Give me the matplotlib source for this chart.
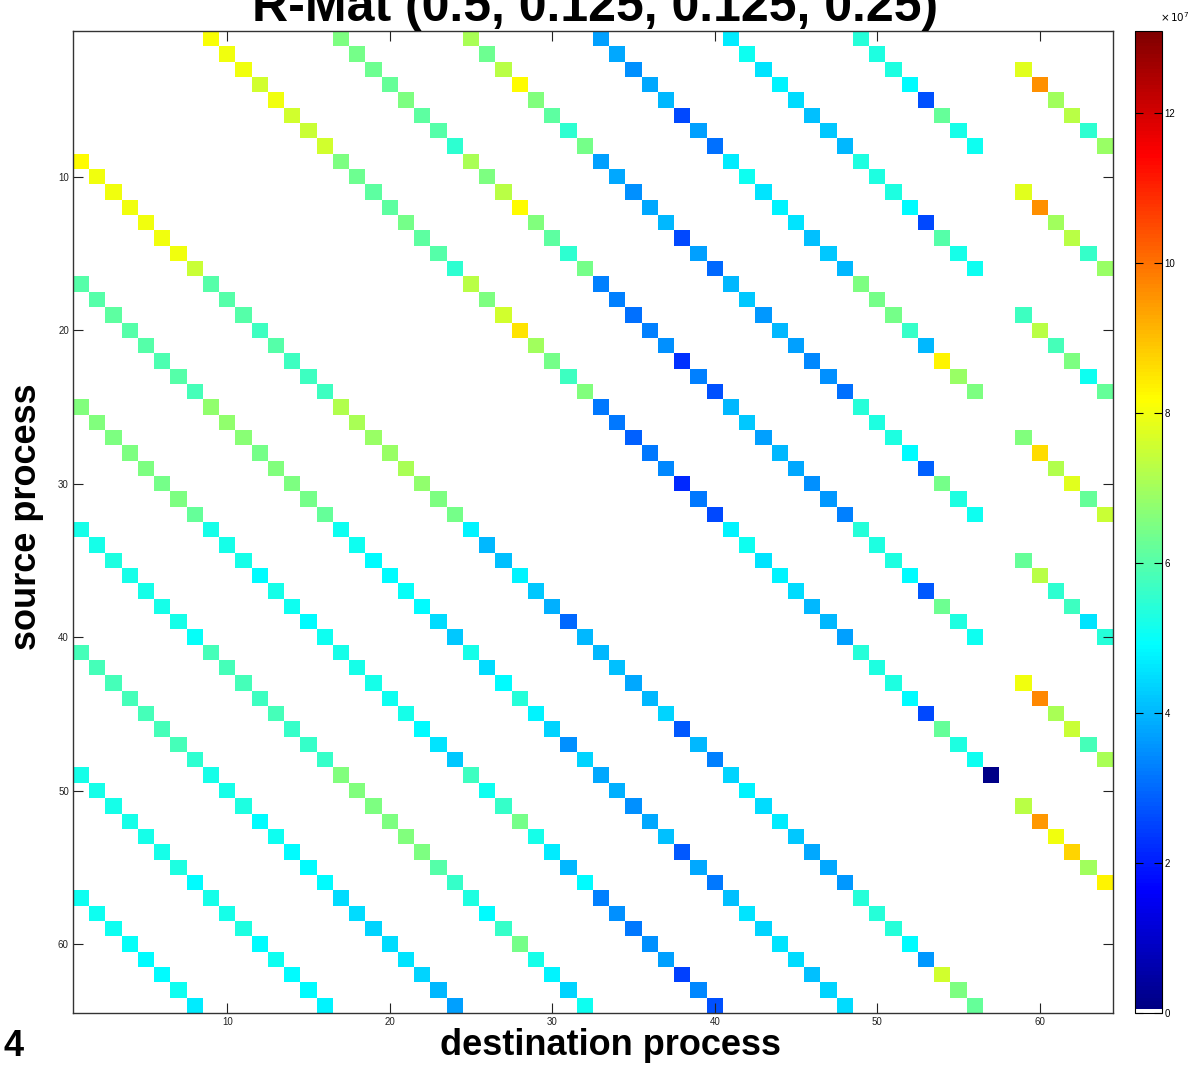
import numpy as np
import matplotlib
matplotlib.use("Agg")
import matplotlib.pyplot as plt
from matplotlib.colors import ListedColormap, LinearSegmentedColormap

plt.rcParams['font.family'] = ['Liberation Sans', 'DejaVu Sans']

# ---------------- data (values in units of 1e7 bytes) ----------------
# 64 processes in 8 blocks of 8. Traffic only flows between process i and
# j with j-i a multiple of 8, so each off-diagonal 8x8 block holds one
# diagonal of 8 values (k = 0..7). None = block on the main diagonal.
block_size = 8
n_proc = 64
vmax = 13.1          # top of colour scale (x 1e7)
x_ticks = [10, 20, 30, 40, 50, 60]
y_ticks = [10, 20, 30, 40, 50, 60]
cbar_ticks = [0, 2, 4, 6, 8, 10, 12]

row_block_0 = [None,
               [8.1, 8.0, 8.0, 7.6, 8.0, 7.6, 7.5, 7.6],
               [6.5, 6.4, 6.3, 6.2, 6.5, 6.1, 6.0, 5.5],
               [7.1, 6.3, 7.3, 8.2, 6.6, 6.1, 5.5, 6.4],
               [3.7, 3.8, 3.5, 3.8, 4.0, 2.6, 3.7, 3.1],
               [4.7, 5.1, 4.6, 4.8, 4.5, 4.1, 4.2, 4.0],
               [5.4, 5.3, 5.3, 4.9, 2.7, 6.2, 5.2, 5.1],
               [0.0, 0.0, 7.8, 9.6, 7.0, 7.3, 5.5, 6.9]]
row_block_1 = [[8.2, 8.0, 8.0, 8.0, 8.0, 8.0, 8.0, 7.5],
               None,
               [6.5, 6.3, 6.1, 6.1, 6.4, 6.1, 6.0, 5.5],
               [7.1, 6.5, 7.3, 8.2, 6.6, 6.1, 5.5, 6.4],
               [3.7, 3.8, 3.5, 3.8, 4.0, 2.6, 3.7, 3.0],
               [4.7, 5.1, 4.6, 4.8, 4.6, 4.1, 4.2, 4.0],
               [5.3, 5.3, 5.3, 4.9, 2.6, 6.0, 5.2, 5.1],
               [0.0, 0.0, 7.8, 9.6, 7.0, 7.3, 5.6, 6.9]]
row_block_2 = [[6.0, 6.0, 6.1, 6.0, 6.0, 5.9, 6.0, 5.8],
               [6.0, 6.0, 6.0, 5.7, 6.0, 5.7, 5.7, 5.7],
               None,
               [7.3, 6.5, 7.6, 8.5, 7.0, 6.4, 5.7, 6.6],
               [3.3, 3.3, 3.1, 3.3, 3.5, 2.3, 3.3, 2.7],
               [4.0, 4.2, 3.6, 4.0, 3.7, 3.4, 3.5, 3.1],
               [6.5, 6.4, 6.4, 5.6, 4.0, 8.3, 6.9, 6.5],
               [0.0, 0.0, 5.7, 7.3, 5.8, 6.5, 5.1, 6.2]]
row_block_3 = [[6.6, 6.6, 6.5, 6.5, 6.5, 6.4, 6.5, 6.2],
               [6.8, 6.8, 6.7, 6.4, 6.6, 6.5, 6.4, 6.2],
               [7.2, 7.1, 6.9, 6.9, 7.1, 6.8, 6.5, 6.4],
               None,
               [3.2, 3.2, 2.9, 3.2, 3.4, 2.2, 3.2, 2.6],
               [4.0, 4.2, 3.7, 4.0, 3.8, 3.5, 3.6, 3.3],
               [5.4, 5.3, 5.3, 4.9, 2.9, 6.4, 5.3, 5.1],
               [0.0, 0.0, 6.6, 8.6, 7.2, 7.8, 6.2, 7.5]]
row_block_4 = [[5.2, 5.2, 5.3, 5.2, 5.2, 5.2, 5.2, 5.0],
               [5.2, 5.2, 5.2, 4.9, 5.2, 5.1, 4.9, 5.1],
               [5.1, 5.1, 4.9, 4.9, 5.0, 4.9, 4.5, 4.2],
               [4.8, 4.0, 4.1, 4.8, 4.2, 3.9, 3.0, 4.0],
               None,
               [4.8, 5.1, 4.6, 4.8, 4.5, 4.0, 4.0, 3.7],
               [5.4, 5.3, 5.3, 4.9, 2.8, 6.3, 5.3, 5.1],
               [0.0, 0.0, 6.2, 7.3, 5.5, 5.7, 4.6, 5.4]]
row_block_5 = [[5.8, 5.8, 5.8, 5.8, 5.8, 5.8, 5.8, 5.5],
               [5.8, 5.8, 5.8, 5.7, 5.8, 5.6, 5.6, 5.6],
               [5.2, 5.2, 5.2, 5.1, 5.2, 4.9, 4.6, 4.2],
               [5.2, 4.5, 4.9, 5.4, 4.8, 4.4, 3.5, 4.4],
               [4.0, 4.1, 3.8, 4.0, 4.4, 2.8, 4.0, 3.3],
               None,
               [5.4, 5.3, 5.3, 4.9, 2.6, 6.2, 5.3, 5.1],
               [0.0, 0.0, 8.0, 9.7, 7.1, 7.5, 5.8, 7.1]]
row_block_6 = [[5.2, 5.2, 5.2, 5.2, 5.2, 5.2, 5.3, 4.9],
               [5.2, 5.2, 5.3, 4.9, 5.1, 4.9, 4.9, 4.9],
               [6.6, 6.6, 6.5, 6.5, 6.6, 6.5, 6.0, 5.6],
               [5.7, 5.1, 5.6, 6.4, 5.2, 4.7, 4.0, 4.9],
               [3.8, 3.9, 3.5, 3.8, 4.1, 2.8, 3.8, 3.2],
               [4.4, 4.8, 4.5, 4.7, 4.2, 3.8, 3.8, 3.6],
               None,
               [0.15, 0.0, 7.3, 9.5, 8.0, 8.7, 7.0, 8.3]]
row_block_7 = [[5.1, 5.1, 5.1, 5.0, 4.9, 4.9, 5.1, 4.7],
               [5.2, 5.2, 5.3, 4.9, 5.1, 4.9, 4.9, 4.8],
               [4.5, 4.5, 4.4, 4.5, 4.6, 4.4, 4.0, 3.7],
               [5.3, 4.9, 5.6, 6.4, 5.2, 4.8, 4.4, 5.1],
               [3.3, 3.5, 3.2, 3.5, 3.7, 2.5, 3.4, 2.7],
               [4.1, 4.6, 4.4, 4.6, 4.5, 4.1, 4.4, 4.5],
               [5.4, 5.4, 5.4, 4.9, 3.6, 7.6, 6.5, 6.2],
               None]

row_blocks = [row_block_0, row_block_1, row_block_2, row_block_3,
              row_block_4, row_block_5, row_block_6, row_block_7]

M = np.zeros((n_proc, n_proc))
for R, blocks in enumerate(row_blocks):
    for C, vals in enumerate(blocks):
        if vals is None:
            continue
        for k, v in enumerate(vals):
            M[R * block_size + k, C * block_size + k] = v

# MATLAB-style jet colormap with zero shown as white
matlab_jet = LinearSegmentedColormap('matlab_jet', {
    'red':   [(0, 0, 0), (0.375, 0, 0), (0.625, 1, 1), (0.875, 1, 1), (1, 0.5, 0.5)],
    'green': [(0, 0, 0), (0.125, 0, 0), (0.375, 1, 1), (0.625, 1, 1), (0.875, 0, 0), (1, 0, 0)],
    'blue':  [(0, 0.5, 0.5), (0.125, 1, 1), (0.375, 1, 1), (0.625, 0, 0), (1, 0, 0)],
}, N=256)
cols = matlab_jet(np.linspace(0, 1, 256))
cols[0] = [1, 1, 1, 1]
cmap = ListedColormap(cols)

W, H = 1191, 1065
fig = plt.figure(figsize=(W / 100, H / 100), dpi=100)
ax = fig.add_axes([73 / W, 1 - 1013 / H, 1040 / W, 982 / H])
im = ax.imshow(M, cmap=cmap, vmin=0, vmax=vmax, aspect='auto',
               interpolation='nearest',
               extent=(0.5, n_proc + 0.5, n_proc + 0.5, 0.5))
ax.set_xticks(x_ticks)
ax.set_yticks(y_ticks)
ax.tick_params(direction='in', length=7, width=0.8, top=True, right=True,
               labelsize=7, pad=3, colors='#222222')
for s in ax.spines.values():
    s.set_color('#333333')
    s.set_linewidth(1.0)

cax = fig.add_axes([1135 / W, 1 - 1013 / H, 27 / W, 982 / H])
cb = fig.colorbar(im, cax=cax, ticks=cbar_ticks)
cax.tick_params(direction='in', length=6, width=0.8, left=True, right=True,
                labelsize=7, pad=2)
cb.outline.set_linewidth(0.8)
fig.text(1160 / W, 1 - 22 / H, r'$\times\,10^{7}$', fontsize=7.5,
         ha='left', va='baseline')

fig.text(595 / W, 1 - 21 / H, 'R-Mat (0.5, 0.125, 0.125, 0.25)',
         ha='center', va='baseline', fontsize=36, fontweight='bold')
fig.text(610 / W, 1 - 1055 / H, 'destination process', ha='center',
         va='baseline', fontsize=26, fontweight='bold')
fig.text(27 / W, 1 - 517 / H, 'source process', ha='center', va='center',
         rotation=90, fontsize=26, fontweight='bold')
fig.text(3 / W, 1 - 1064 / H, '4', ha='left', va='bottom', fontsize=26,
         fontweight='bold')

fig.savefig('out.png', dpi=100)
